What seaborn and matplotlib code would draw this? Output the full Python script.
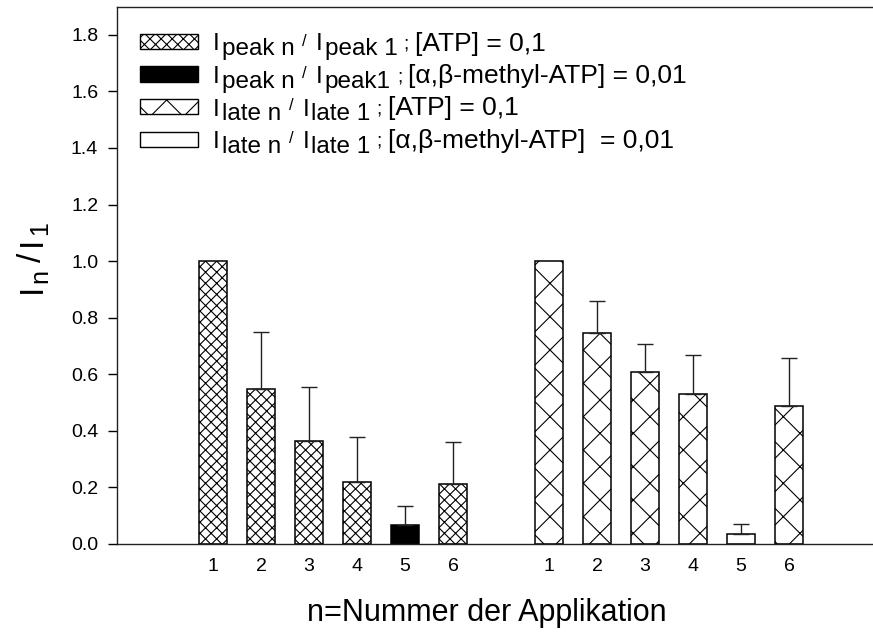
import matplotlib
matplotlib.use("Agg")
import matplotlib.pyplot as plt
from matplotlib.patches import Rectangle
import numpy as np
import pandas as pd
import seaborn as sns

# Application number within each protocol
applikation = [1, 2, 3, 4, 5, 6]

# Normalised peak currents I_peak n / I_peak 1 (mean, upper SD)
peak_values = [1.00, 0.547, 0.365, 0.218, 0.066, 0.211]
peak_err = [0.0, 0.203, 0.190, 0.159, 0.067, 0.149]

# Normalised late currents I_late n / I_late 1 (mean, upper SD)
late_values = [1.00, 0.745, 0.607, 0.529, 0.034, 0.488]
late_err = [0.0, 0.115, 0.100, 0.140, 0.036, 0.169]

# Agonist used for each application (5th: alpha,beta-methyl-ATP)
agonist = ["ATP", "ATP", "ATP", "ATP", "meATP", "ATP"]

# Legend entries: numerator / denominator subscripts and concentration text
series_keys = ["peak_ATP", "peak_meATP", "late_ATP", "late_meATP"]
legend_num = ["peak n", "peak n", "late n", "late n"]
legend_den = ["peak 1", "peak1", "late 1", "late 1"]
legend_conc = ["[ATP] = 0,1", "[α,β-methyl-ATP] = 0,01",
               "[ATP] = 0,1", "[α,β-methyl-ATP]  = 0,01"]

face = {"peak_ATP": "white", "peak_meATP": "black", "late_ATP": "white", "late_meATP": "white"}
hatch = {"peak_ATP": "xxx", "peak_meATP": "", "late_ATP": "x", "late_meATP": ""}

# Long-format table: peak block at 1..6, late block at 8..13
group_offset = 7
rows = []
for n, v, e, a in zip(applikation, peak_values, peak_err, agonist):
    rows.append(dict(pos=n, label=str(n), value=v, err=e, series=f"peak_{a}"))
for n, v, e, a in zip(applikation, late_values, late_err, agonist):
    rows.append(dict(pos=n + group_offset, label=str(n), value=v, err=e, series=f"late_{a}"))
df = pd.DataFrame(rows)

sns.set_theme(style="ticks")
plt.rcParams["font.family"] = ["Liberation Sans", "DejaVu Sans"]
plt.rcParams["text.color"] = "black"
plt.rcParams["axes.labelcolor"] = "black"
plt.rcParams["hatch.linewidth"] = 0.8

W, H = 873, 632
fig = plt.figure(figsize=(W / 100, H / 100), dpi=100)
ax = fig.add_axes([117 / W, 1 - 544 / H, 756 / W, 537.5 / H])

sns.barplot(
    data=df, x="pos", y="value", hue="series", hue_order=series_keys,
    palette=face, native_scale=True, dodge=False, width=0.6,
    edgecolor="black", linewidth=1.1, errorbar=None, legend=False, ax=ax,
)
for container, key in zip(ax.containers, series_keys):
    for bar in container:
        bar.set_hatch(hatch[key])
        bar.set_edgecolor("black")

# Upper-only error bars
with_err = df[df["err"] > 0]
ax.errorbar(
    with_err["pos"], with_err["value"],
    yerr=[np.zeros(len(with_err)), with_err["err"]],
    fmt="none", ecolor="#222222", elinewidth=1.0, capsize=5.8, capthick=1.0, zorder=1,
)

ax.set_xlim(-1, 14.75)
ax.set_ylim(0, 1.9)
yt = np.arange(0, 1.81, 0.2)
ax.set_yticks(yt)
ax.set_yticklabels([f"{t:.1f}" for t in yt])
ax.set_xticks(df["pos"])
ax.set_xticklabels(df["label"])
ax.tick_params(axis="x", length=0, pad=10, labelsize=14, colors="black")
ax.tick_params(axis="y", direction="out", length=6.5, width=1.0, pad=7, labelsize=14, colors="black")
for side in ("left", "top", "bottom"):
    ax.spines[side].set_color("#222222")
    ax.spines[side].set_linewidth(1.0)
ax.spines["right"].set_visible(False)

ax.set_ylabel("")
ax.set_xlabel("n=Nummer der Applikation", fontsize=22, va="top")
ax.xaxis.set_label_coords(0.489, -0.100)

renderer = fig.canvas.get_renderer()


def rich_text(x_px, y_px, pieces, rotation=0):
    """Write text pieces one after another; y_px is the baseline (from top).
    Each piece is (text, fontsize, drop_px, gap_px_after)."""
    pos = 0.0
    for s, size, drop, gap in pieces:
        if rotation == 0:
            xx, yy = x_px + pos, y_px + drop
        else:
            xx, yy = x_px + drop, y_px - pos
        t = fig.text(xx / W, 1 - yy / H, s, fontsize=size, rotation=rotation,
                     rotation_mode="anchor", ha="left", va="baseline")
        ext = t.get_window_extent(renderer)
        pos += (ext.width if rotation == 0 else ext.height) + gap


# y-axis label  I_n / I_1  (reads bottom to top)
rich_text(41, 293, [("I", 24, 0, 1), ("n", 18, 6, 7), ("/", 24, 0, 7),
                    ("I", 24, 0, 1), ("1", 18, 6, 0)], rotation=90)

# Legend: hatched swatches plus rich-text labels
fs = 17.5
baselines = [50.5, 83, 115.5, 148]
for key, num, den, conc, yb in zip(series_keys, legend_num, legend_den, legend_conc, baselines):
    x0, x1 = 140, 198
    top, bot = yb - 16.5, yb - 1.5
    ax.add_patch(Rectangle(
        ((x0 - 117) / 756, (544 - bot) / 537.5), (x1 - x0) / 756, (bot - top) / 537.5,
        transform=ax.transAxes, facecolor=face[key], edgecolor="black",
        hatch=hatch[key], linewidth=1.0, clip_on=False))
    rich_text(213, yb, [("I", fs, 0, 2), (num, fs, 5, 8), ("/", 12, -5, 9),
                        ("I", fs, 0, 2), (den, fs, 5, 6), (";", 14, -2, 6),
                        (conc, 19, 0, 0)])

fig.savefig("out.png", dpi=100)
